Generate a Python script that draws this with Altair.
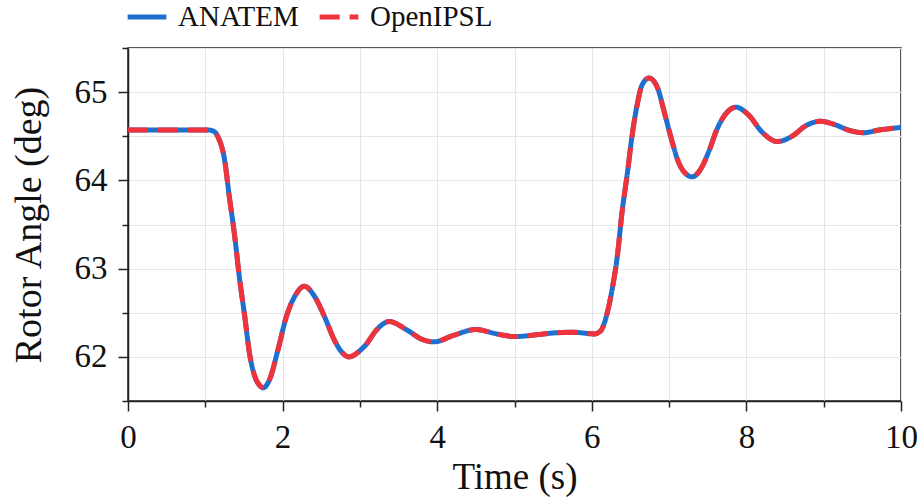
import altair as alt
import pandas as pd

time_s = [0, 0.5, 0.93, 1.05, 1.12, 1.16, 1.25, 1.31, 1.38, 1.44, 1.51, 1.57, 1.64, 1.70, 1.75,
          1.83, 1.94, 2.05, 2.16, 2.28, 2.41, 2.54, 2.67, 2.76, 2.86, 3.0, 3.08, 3.21, 3.38,
          3.6, 3.8, 3.96, 4.2, 4.5, 4.77, 5.0, 5.28, 5.49, 5.75, 6.03, 6.11, 6.2, 6.26,
          6.33, 6.39, 6.46, 6.52, 6.59, 6.65, 6.74, 6.85, 6.93, 7.02, 7.12, 7.21, 7.30,
          7.41, 7.51, 7.62, 7.69, 7.76, 7.86, 8.03, 8.2, 8.4, 8.59, 8.77, 8.96, 9.15, 9.32,
          9.52, 9.71, 10.0]

anatem = [64.57, 64.57, 64.57, 64.57, 64.55, 64.50, 64.23, 63.82, 63.37, 62.91, 62.46, 62.05,
          61.78, 61.68, 61.65, 61.74, 62.08, 62.46, 62.69, 62.80, 62.69, 62.46, 62.19, 62.06,
          62.00, 62.07, 62.14, 62.30, 62.40, 62.31, 62.20, 62.17, 62.24, 62.31, 62.26, 62.23,
          62.25, 62.27, 62.28, 62.26, 62.29, 62.50, 62.75, 63.14, 63.63, 64.08, 64.50, 64.87,
          65.08, 65.16, 65.05, 64.80, 64.50, 64.21, 64.08, 64.04, 64.13, 64.32, 64.58, 64.70,
          64.78, 64.83, 64.74, 64.55, 64.44, 64.50, 64.62, 64.67, 64.63, 64.57, 64.54, 64.57,
          64.60]

openipsl = list(anatem)

series_names = ["ANATEM", "OpenIPSL"]
series_colors = ["#1f6fd0", "#f0333a"]

x_ticks = list(range(0, 11))
y_ticks = [61.5, 62, 62.5, 63, 63.5, 64, 64.5, 65, 65.5]

rows = []
for name, vals in zip(series_names, [anatem, openipsl]):
    for t, v in zip(time_s, vals):
        rows.append({"t": t, "v": v, "series": name})
df = pd.DataFrame(rows)

FONT = "Liberation Serif"

chart = alt.Chart(df).mark_line(strokeWidth=5, interpolate="monotone").encode(
    x=alt.X("t:Q", scale=alt.Scale(domain=[0, 10], nice=False),
            axis=alt.Axis(title="Time (s)", values=x_ticks,
                          labelExpr="datum.value % 2 === 0 ? format(datum.value, '.0f') : ''",
                          tickSize={"condition": {"test": "datum.value % 2 === 0", "value": 10}, "value": 6},
                          labelFlush=False, labelPadding=10, titlePadding=5,
                          titleFontSize=37)),
    y=alt.Y("v:Q", scale=alt.Scale(domain=[61.5, 65.5], nice=False, zero=False),
            axis=alt.Axis(title="Rotor Angle (deg)", values=y_ticks,
                          labelExpr="datum.value % 1 === 0 ? format(datum.value, '.0f') : ''",
                          tickSize={"condition": {"test": "datum.value % 1 === 0", "value": 10}, "value": 6},
                          labelFlush=False, labelPadding=11, titlePadding=26,
                          titleFontSize=38)),
    color=alt.Color("series:N", scale=alt.Scale(domain=series_names, range=series_colors),
                    legend=alt.Legend(title=None)),
    strokeDash=alt.StrokeDash("series:N",
                              scale=alt.Scale(domain=series_names, range=[[1, 0], [20, 10]]),
                              legend=alt.Legend(title=None)),
).properties(
    width=773, height=353,
    autosize=alt.AutoSizeParams(type="none"),
    padding={"left": 128, "top": 48, "right": 21, "bottom": 98},
).configure_view(
    stroke="#222222", strokeWidth=1.5
).configure_axis(
    grid=True, gridColor="#e6e6e6", gridWidth=1,
    domainColor="#222222", domainWidth=1.5,
    tickColor="#222222", tickWidth=1.5,
    labelFont=FONT, labelFontSize=33, labelColor="#111111",
    titleFont=FONT, titleFontSize=36, titleColor="#111111", titleFontWeight="normal",
).configure_legend(
    orient="none", legendX=-3, legendY=-53, direction="horizontal",
    labelFont=FONT, labelFontSize=29, labelColor="#111111",
    symbolType="stroke", symbolSize=1500, symbolStrokeWidth=5,
    labelOffset=9, columnPadding=10, symbolOffset=0, padding=0,
)

chart.save("out.html", embed_options={"renderer": "svg", "actions": False})
